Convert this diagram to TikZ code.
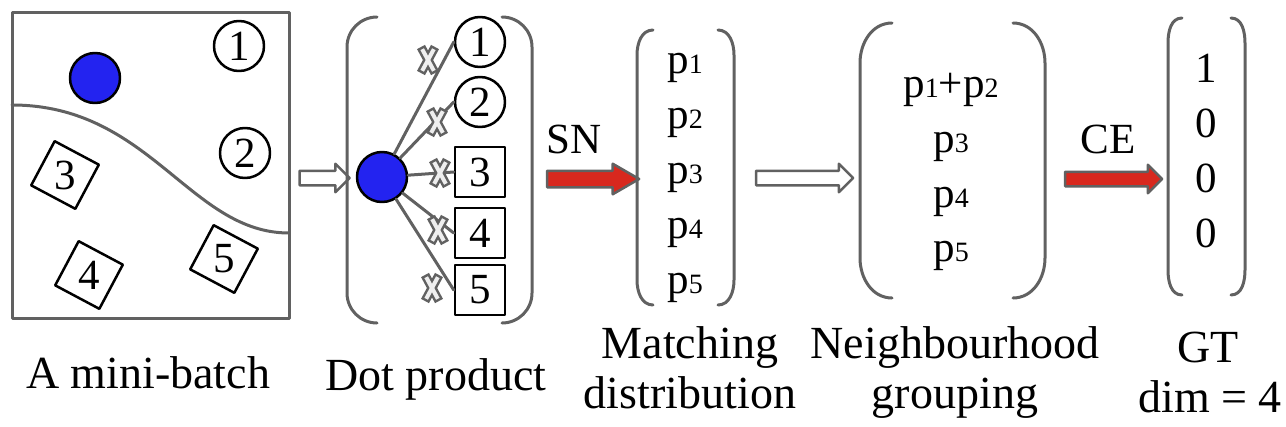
\documentclass[tikz,border=0pt]{standalone}
\usepackage{fontspec}
\setmainfont{Liberation Serif}
\usetikzlibrary{shapes.arrows}
\definecolor{linegray}{HTML}{616161}
\definecolor{query}{HTML}{2323F0}
\definecolor{snred}{HTML}{D8281E}
\definecolor{crossfill}{HTML}{EEEEEE}
\newcommand{\pidx}[1]{p{\fontsize{28}{28}\selectfont #1}}

\begin{document}
\begin{tikzpicture}[x=1pt,y=-1pt,line cap=round,line join=round,
  txt/.style={font=\fontsize{43}{48}\selectfont,inner sep=0pt},
  lbl/.style={font=\fontsize{46}{50}\selectfont,inner sep=0pt,anchor=base},
  brk/.style={linegray,line width=3pt},
  link/.style={linegray,line width=3pt},
  qnode/.style={circle,draw=black,line width=2.5pt,fill=query,minimum size=50pt,inner sep=0pt},
  cnode/.style={circle,draw=black,line width=2.5pt,fill=white,minimum size=50pt,txt},
  snode/.style={rectangle,draw=black,line width=2.5pt,fill=white,minimum size=50pt,txt},
  hollow/.style={single arrow,draw=linegray,fill=white,line width=2.5pt,inner xsep=0pt,inner ysep=6pt,
    single arrow head extend=7pt,single arrow tip angle=90},
  redarrow/.style={single arrow,draw=linegray,fill=snred,line width=2.5pt,inner xsep=0pt,inner ysep=7pt,
    single arrow head extend=7pt}]
  \useasboundingbox (0,0) rectangle (1286,426);

  % ---- a mini-batch ----
  \draw[brk] (12,12) rectangle (289,318);
  \draw[brk] (12,105) .. controls (150,105) and (190,233) .. (289,233);
  \node[qnode] (qa) at (95,78) {};
  \node[cnode] (a1) at (239,46) {1};
  \node[cnode] (a2) at (245,153) {2};
  \foreach \n/\x/\y in {3/65/175,4/89/275,5/224/259}{
    \node[snode,rotate=-28] (a\n) at (\x,\y) {};
    \node[txt] (a\n t) at (a\n) {\n};
  }
  \node[lbl] (lbatch) at (148,388) {A mini-batch};

  \node[hollow,minimum height=50pt] (ar1) at (321,178) {};

  % ---- dot product ----
  \node[qnode] (qb) at (382,177) {};
  \node[cnode] (b1) at (480,42) {1};
  \node[cnode] (b2) at (480,102) {2};
  \node[snode] (b3) at (480,172) {3};
  \node[snode] (b4) at (480,233) {4};
  \node[snode] (b5) at (480,290) {5};
  \foreach \t in {1,...,5}{
    \draw[link] (qb) -- (b\t.west);
  }
  % crossed-out links
  \foreach \x/\y in {428/60,437/122,440/173,438/230,432/288}{
    \foreach \s in {1,-1}{
      \draw[linegray,line width=9pt,line cap=butt] (\x-7,\y-13*\s) -- (\x+7,\y+13*\s);
    }
    \foreach \s in {1,-1}{
      \draw[crossfill,line width=4pt,line cap=butt,shorten <=2.5pt,shorten >=2.5pt] (\x-7,\y-13*\s) -- (\x+7,\y+13*\s);
    }
  }
  \node[lbl] (ldot) at (436,390) {Dot product};

  \node[txt,anchor=base] (sn) at (574,153) {SN};
  \node[redarrow,minimum height=92pt,single arrow tip angle=60] (ar2) at (586,179) {};

  % ---- matching distribution ----
  \foreach \i/\y in {1/73,2/128,3/183,4/238,5/293}{
    \node[txt,anchor=base] (m\i) at (685,\y) {\pidx{\i}};
  }
  \node[lbl] (lmatch) at (690,358) {Matching};
  \node[lbl] (ldist) at (690,408) {distribution};

  \node[hollow,minimum height=97pt] (ar3) at (801,178) {};

  % ---- neighbourhood grouping ----
  \node[txt,anchor=base] (g12) at (951,97) {\pidx{1}+\pidx{2}};
  \node[txt,anchor=base] (g3) at (951,152) {\pidx{3}};
  \node[txt,anchor=base] (g4) at (951,207) {\pidx{4}};
  \node[txt,anchor=base] (g5) at (951,261) {\pidx{5}};
  \node[lbl] (lneigh) at (955,358) {Neighbourhood};
  \node[lbl] (lgroup) at (955,408) {grouping};

  \node[txt,anchor=base] (ce) at (1108,153) {CE};
  \node[redarrow,minimum height=97pt,inner ysep=6pt] (ar4) at (1110,179) {};

  % ---- ground truth ----
  \foreach \v/\y [count=\k] in {1/82,0/137,0/192,0/247}{
    \node[txt,anchor=base] (gt\k) at (1206,\y) {\v};
  }
  \node[lbl] (lgt) at (1208,362) {GT};
  \node[lbl] (ldim) at (1210,412) {dim = 4};

  % ---- brackets ----
  \foreach \xl/\xr/\yt/\yb/\rx/\ry in {347/532/17/323/30/30,637/734/30/305/16/25,860/1045/23/298/32/40,1168/1245/18/295/14/25}{
    \draw[brk] (\xl+\rx,\yt) to[out=180,in=90] (\xl,\yt+\ry) -- (\xl,\yb-\ry) to[out=-90,in=180] (\xl+\rx,\yb);
    \draw[brk] (\xr-\rx,\yt) to[out=0,in=90] (\xr,\yt+\ry) -- (\xr,\yb-\ry) to[out=-90,in=0] (\xr-\rx,\yb);
  }
\end{tikzpicture}
\end{document}
